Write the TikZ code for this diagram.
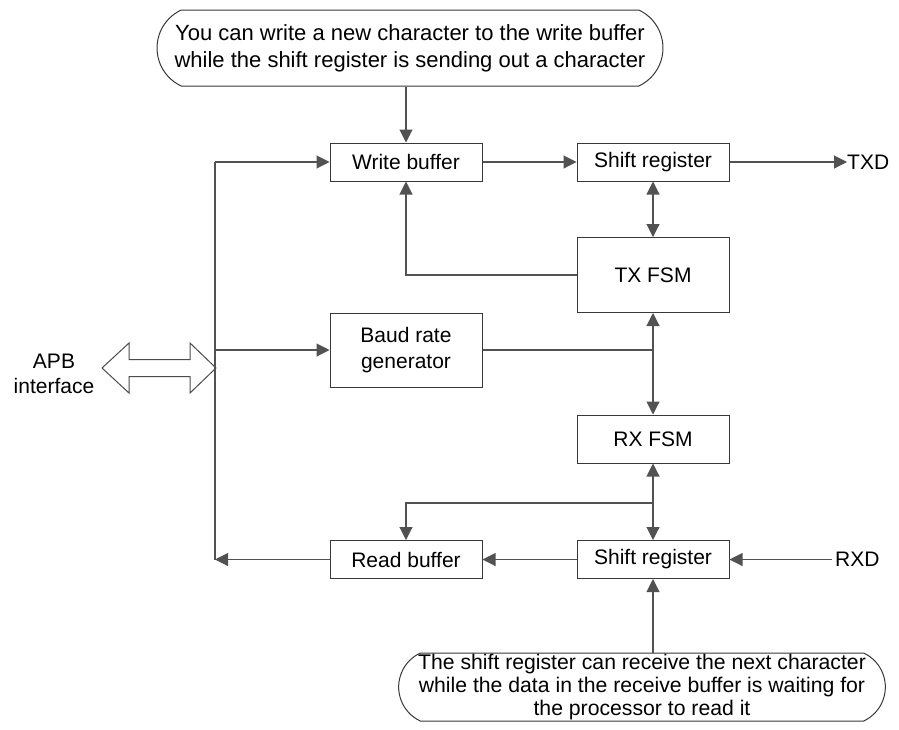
\documentclass[tikz,border=0pt]{standalone}
\usepackage{fontspec}
\setmainfont{Liberation Sans}
\usetikzlibrary{arrows.meta,shapes.misc}
\begin{document}
\begin{tikzpicture}[x=1pt,y=-1pt,
  blk/.style={draw=black!78, line width=1pt, minimum width=152pt, minimum height=38pt, inner sep=0pt, align=center, font=\fontsize{21}{26}\selectfont},
  conn/.style={draw=black!68, line width=1.1pt},
  arr/.style={conn, -{Triangle[length=13pt,width=13pt]}},
  darr/.style={conn, {Triangle[length=13pt,width=13pt]}-{Triangle[length=13pt,width=13pt]}},
  callout/.style={draw=black!78, line width=1pt, rounded rectangle, rounded rectangle arc length=130, inner sep=0pt, align=center},
  lbl/.style={inner sep=0pt, font=\fontsize{21}{25}\selectfont}]
\useasboundingbox (0,0) rectangle (899,729);

% callouts
\node[callout, minimum width=506pt, minimum height=76pt, font=\fontsize{22}{27}\selectfont] (topc) at (410,48)
  {You can write a new character to the write buffer\\while the shift register is sending out a character};
\node[callout, minimum width=476pt, minimum height=68pt, font=\fontsize{21.2}{23}\selectfont] (botc) at (642,687)
  {The shift register can receive the next character\\while the data in the receive buffer is waiting for\\the processor to read it};

% blocks
\node[blk] (wb) at (406,162) {Write buffer};
\node[blk] (srt) at (653,162) {Shift register};
\node[blk, minimum height=75pt] (txfsm) at (653,275) {TX FSM};
\node[blk, minimum height=74pt] (baud) at (406,350) {Baud rate\\generator};
\node[blk, minimum height=48pt] (rxfsm) at (653,439) {RX FSM};
\node[blk] (rb) at (406,559.5) {Read buffer};
\node[blk] (srb) at (653,559.5) {Shift register};

% labels
\node[lbl, anchor=west] (txd) at (847,162) {TXD};
\node[lbl, anchor=west] (rxd) at (835,559.5) {RXD};
\node[lbl, align=center] (apb) at (54,374) {APB\\interface};

% APB double block arrow
\draw[draw=black!70, line width=1pt, fill=white]
  (102,368) -- (129,343) -- (129,359.5) -- (190,359.5) -- (190,343) -- (216,368)
  -- (190,393) -- (190,376.5) -- (129,376.5) -- (129,393) -- cycle;

% bus
\coordinate (bustop) at (215,162);
\coordinate (busbot) at (215,559.5);
\draw[conn] (bustop) -- (busbot);
\draw[arr] (bustop) -- (wb.west);
\draw[arr] (bustop |- baud.west) -- (baud.west);
\draw[arr] (rb.west) -- (busbot);

% top path
\draw[arr] (wb.north |- topc.south) -- (wb.north);
\draw[arr] (wb.east) -- (srt.west);
\draw[arr] (srt.east) -- (txd.west);
\draw[darr] (srt.south) -- (txfsm.north);
\draw[arr] (txfsm.west) -- (wb.south |- txfsm.west) -- (wb.south);

% baud junction
\coordinate (j1) at (txfsm.south |- baud.east);
\draw[conn] (baud.east) -- (j1);
\draw[arr] (j1) -- (txfsm.south);
\draw[arr] (j1) -- (rxfsm.north);

% rx junction
\coordinate (j2) at (653,503);
\draw[arr] (j2) -- (rxfsm.south);
\draw[arr] (j2) -- (srb.north);
\draw[arr] (j2) -- (rb.north |- j2) -- (rb.north);

% bottom path
\draw[arr] (srb.west) -- (rb.east);
\draw[arr] (rxd.west) ++(-3,0) -- (srb.east);
\draw[arr] (srb.south |- botc.north) -- (srb.south);
\end{tikzpicture}
\end{document}
